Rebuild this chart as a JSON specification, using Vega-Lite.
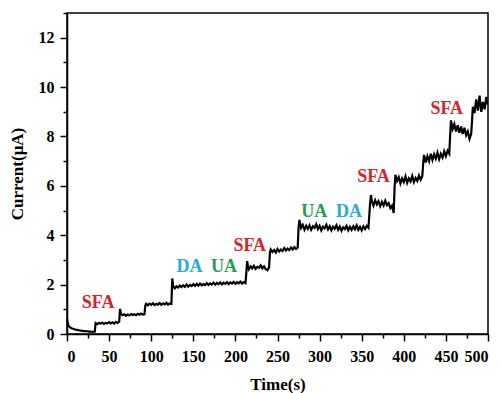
{
  "$schema": "https://vega.github.io/schema/vega-lite/v6.json",
  "width": 421,
  "height": 321,
  "autosize": "none",
  "padding": {"left": 67, "top": 13, "right": 14, "bottom": 59},
  "background": "white",
  "config": {
    "view": {"stroke": "black", "strokeWidth": 1.5},
    "axis": {"labelFont": "Liberation Serif", "titleFont": "Liberation Serif", "labelFontWeight": "bold", "titleFontWeight": "bold", "labelFontSize": 16, "titleFontSize": 17, "labelColor": "black", "titleColor": "black", "domainColor": "black", "tickColor": "black", "domainWidth": 1.5, "tickWidth": 1.5, "grid": false}
  },
  "datasets": {
    "curve": [
      {"t":0,"i":0.62},{"t":1,"i":0.42},{"t":2,"i":0.33},{"t":3,"i":0.29},{"t":4,"i":0.26},{"t":6,"i":0.22},{"t":8,"i":0.2},{"t":10,"i":0.18},{"t":12,"i":0.17},{"t":14,"i":0.15},{"t":16,"i":0.14},{"t":18,"i":0.13},{"t":20,"i":0.12},{"t":22,"i":0.12},{"t":24,"i":0.11},{"t":26,"i":0.1},{"t":28,"i":0.1},{"t":30,"i":0.09},{"t":32,"i":0.1},{"t":33,"i":0.1},
      {"t":34,"i":0.44},{"t":36,"i":0.40},{"t":38,"i":0.45},{"t":40,"i":0.42},{"t":42,"i":0.46},{"t":44,"i":0.41},{"t":46,"i":0.45},{"t":48,"i":0.43},{"t":50,"i":0.48},{"t":52,"i":0.43},{"t":54,"i":0.47},{"t":56,"i":0.42},{"t":58,"i":0.49},{"t":60,"i":0.45},{"t":62,"i":0.5},
      {"t":63,"i":1.02},{"t":64,"i":0.82},{"t":66,"i":0.76},{"t":68,"i":0.8},{"t":70,"i":0.74},{"t":72,"i":0.79},{"t":74,"i":0.75},{"t":76,"i":0.81},{"t":78,"i":0.77},{"t":80,"i":0.8},{"t":82,"i":0.76},{"t":84,"i":0.82},{"t":86,"i":0.78},{"t":88,"i":0.83},{"t":90,"i":0.79},{"t":92,"i":0.8},
      {"t":93,"i":1.15},{"t":94,"i":1.22},{"t":96,"i":1.16},{"t":98,"i":1.23},{"t":100,"i":1.18},{"t":102,"i":1.24},{"t":104,"i":1.17},{"t":106,"i":1.22},{"t":108,"i":1.19},{"t":110,"i":1.25},{"t":112,"i":1.18},{"t":114,"i":1.23},{"t":116,"i":1.2},{"t":118,"i":1.26},{"t":120,"i":1.19},{"t":122,"i":1.24},{"t":124,"i":1.22},
      {"t":125,"i":2.25},{"t":126,"i":1.95},{"t":128,"i":1.85},{"t":130,"i":1.93},{"t":132,"i":1.88},{"t":134,"i":1.96},{"t":136,"i":1.9},{"t":138,"i":1.97},{"t":140,"i":1.91},{"t":142,"i":2.0},{"t":144,"i":1.92},{"t":146,"i":1.99},{"t":148,"i":1.94},{"t":150,"i":2.02},{"t":152,"i":1.95},{"t":154,"i":2.03},{"t":156,"i":1.96},{"t":158,"i":2.04},{"t":160,"i":1.97},{"t":162,"i":2.02},{"t":164,"i":1.98},{"t":166,"i":2.06},{"t":168,"i":1.99},{"t":170,"i":2.05},{"t":172,"i":2.0},{"t":174,"i":2.08},{"t":176,"i":2.0},{"t":178,"i":2.07},{"t":180,"i":2.02},{"t":182,"i":2.09},{"t":184,"i":2.01},{"t":186,"i":2.08},{"t":188,"i":2.03},{"t":190,"i":2.1},{"t":192,"i":2.02},{"t":194,"i":2.09},{"t":196,"i":2.04},{"t":198,"i":2.11},{"t":200,"i":2.03},{"t":202,"i":2.1},{"t":204,"i":2.05},{"t":206,"i":2.12},{"t":208,"i":2.04},{"t":210,"i":2.1},{"t":212,"i":2.06},
      {"t":214,"i":2.95},{"t":215,"i":2.72},{"t":216,"i":2.62},{"t":218,"i":2.74},{"t":220,"i":2.66},{"t":222,"i":2.76},{"t":224,"i":2.64},{"t":226,"i":2.72},{"t":228,"i":2.68},{"t":230,"i":2.78},{"t":232,"i":2.66},{"t":234,"i":2.74},{"t":236,"i":2.62},{"t":238,"i":2.58},{"t":240,"i":2.7},
      {"t":241,"i":3.3},{"t":242,"i":3.42},{"t":244,"i":3.32},{"t":246,"i":3.4},{"t":248,"i":3.3},{"t":250,"i":3.44},{"t":252,"i":3.34},{"t":254,"i":3.42},{"t":256,"i":3.36},{"t":258,"i":3.48},{"t":260,"i":3.38},{"t":262,"i":3.46},{"t":264,"i":3.4},{"t":266,"i":3.5},{"t":268,"i":3.42},{"t":270,"i":3.52},{"t":272,"i":3.44},{"t":274,"i":3.5},
      {"t":275,"i":4.3},{"t":276,"i":4.62},{"t":278,"i":4.3},{"t":280,"i":4.42},{"t":282,"i":4.22},{"t":284,"i":4.38},{"t":286,"i":4.26},{"t":288,"i":4.4},{"t":290,"i":4.22},{"t":292,"i":4.36},{"t":294,"i":4.3},{"t":296,"i":4.45},{"t":298,"i":4.25},{"t":300,"i":4.38},{"t":302,"i":4.2},{"t":304,"i":4.35},{"t":306,"i":4.28},{"t":308,"i":4.42},{"t":310,"i":4.24},{"t":312,"i":4.36},{"t":314,"i":4.2},{"t":316,"i":4.34},{"t":318,"i":4.26},{"t":320,"i":4.4},{"t":322,"i":4.22},{"t":324,"i":4.35},{"t":326,"i":4.18},{"t":328,"i":4.32},{"t":330,"i":4.25},{"t":332,"i":4.38},{"t":334,"i":4.2},{"t":336,"i":4.34},{"t":338,"i":4.22},{"t":340,"i":4.36},{"t":342,"i":4.24},{"t":344,"i":4.4},{"t":346,"i":4.22},{"t":348,"i":4.34},{"t":350,"i":4.2},{"t":352,"i":4.36},{"t":354,"i":4.25},{"t":356,"i":4.38},{"t":358,"i":4.3},
      {"t":360,"i":5.3},{"t":361,"i":5.62},{"t":362,"i":5.4},{"t":364,"i":5.2},{"t":366,"i":5.42},{"t":368,"i":5.25},{"t":370,"i":5.38},{"t":372,"i":5.18},{"t":374,"i":5.35},{"t":376,"i":5.2},{"t":378,"i":5.4},{"t":380,"i":5.22},{"t":382,"i":5.3},{"t":384,"i":5.1},{"t":386,"i":5.2},{"t":388,"i":4.9},
      {"t":389,"i":5.9},{"t":390,"i":6.45},{"t":392,"i":6.2},{"t":394,"i":6.35},{"t":396,"i":6.1},{"t":398,"i":6.3},{"t":400,"i":6.15},{"t":402,"i":6.38},{"t":404,"i":6.12},{"t":406,"i":6.3},{"t":408,"i":6.18},{"t":410,"i":6.4},{"t":412,"i":6.15},{"t":414,"i":6.32},{"t":416,"i":6.2},{"t":418,"i":6.42},{"t":420,"i":6.25},{"t":422,"i":6.4},
      {"t":423,"i":6.9},{"t":424,"i":7.25},{"t":426,"i":6.95},{"t":428,"i":7.2},{"t":430,"i":7.0},{"t":432,"i":7.3},{"t":434,"i":7.05},{"t":436,"i":7.28},{"t":438,"i":7.1},{"t":440,"i":7.35},{"t":442,"i":7.08},{"t":444,"i":7.3},{"t":446,"i":7.15},{"t":448,"i":7.4},{"t":450,"i":7.2},{"t":452,"i":7.42},{"t":454,"i":7.3},
      {"t":455,"i":8.0},{"t":456,"i":8.65},{"t":458,"i":8.3},{"t":460,"i":8.5},{"t":462,"i":8.2},{"t":464,"i":8.45},{"t":466,"i":8.15},{"t":468,"i":8.4},{"t":470,"i":8.1},{"t":472,"i":8.35},{"t":474,"i":8.05},{"t":476,"i":8.2},{"t":478,"i":7.9},{"t":480,"i":8.1},
      {"t":481,"i":8.6},{"t":482,"i":9.2},{"t":484,"i":8.95},{"t":486,"i":9.5},{"t":488,"i":9.05},{"t":490,"i":9.65},{"t":492,"i":9.0},{"t":494,"i":9.4},{"t":496,"i":9.1},{"t":498,"i":9.6},{"t":499,"i":9.3}
    ],
    "labels": [
      {"t":37,"i":1.27,"label":"SFA","analyte":"SFA"},
      {"t":145.5,"i":2.72,"label":"DA","analyte":"DA"},
      {"t":186.5,"i":2.72,"label":"UA","analyte":"UA"},
      {"t":217,"i":3.56,"label":"SFA","analyte":"SFA"},
      {"t":293.5,"i":4.96,"label":"UA","analyte":"UA"},
      {"t":335,"i":4.96,"label":"DA","analyte":"DA"},
      {"t":364,"i":6.36,"label":"SFA","analyte":"SFA"},
      {"t":451,"i":9.1,"label":"SFA","analyte":"SFA"}
    ]
  },
  "layer": [
    {
      "data": {"name": "curve"},
      "mark": {"type": "line", "color": "black", "strokeWidth": 2.2, "interpolate": "linear"},
      "encoding": {
        "x": {"field": "t", "type": "quantitative", "scale": {"domain": [0, 500], "nice": false},
              "axis": {"values": [0,50,100,150,200,250,300,350,400,450,500], "title": "Time(s)", "tickSize": 7, "labelPadding": 7, "titlePadding": 12, "orient": "bottom"}},
        "y": {"field": "i", "type": "quantitative", "scale": {"domain": [0, 13], "nice": false},
              "axis": {"values": [0,2,4,6,8,10,12], "title": "Current(μA)", "tickSize": 7, "labelPadding": 6, "titlePadding": 12, "orient": "left"}}
      }
    },
    {
      "data": {"name": "labels"},
      "mark": {"type": "text", "font": "Liberation Serif", "fontWeight": "bold", "fontSize": 18, "align": "center", "baseline": "middle"},
      "encoding": {
        "x": {"field": "t", "type": "quantitative",
              "axis": {"values": [25,75,125,175,225,275,325,375,425,475], "labels": false, "domain": false, "title": null, "tickSize": 4, "orient": "bottom"}},
        "y": {"field": "i", "type": "quantitative",
              "axis": {"values": [1,3,5,7,9,11,13], "labels": false, "domain": false, "title": null, "tickSize": 4, "orient": "left"}},
        "text": {"field": "label"},
        "color": {"field": "analyte", "type": "nominal", "scale": {"domain": ["SFA","DA","UA"], "range": ["#d8232a","#27a9e1","#1f9e55"]}, "legend": null}
      }
    }
  ],
  "resolve": {"axis": {"x": "independent", "y": "independent"}}
}
